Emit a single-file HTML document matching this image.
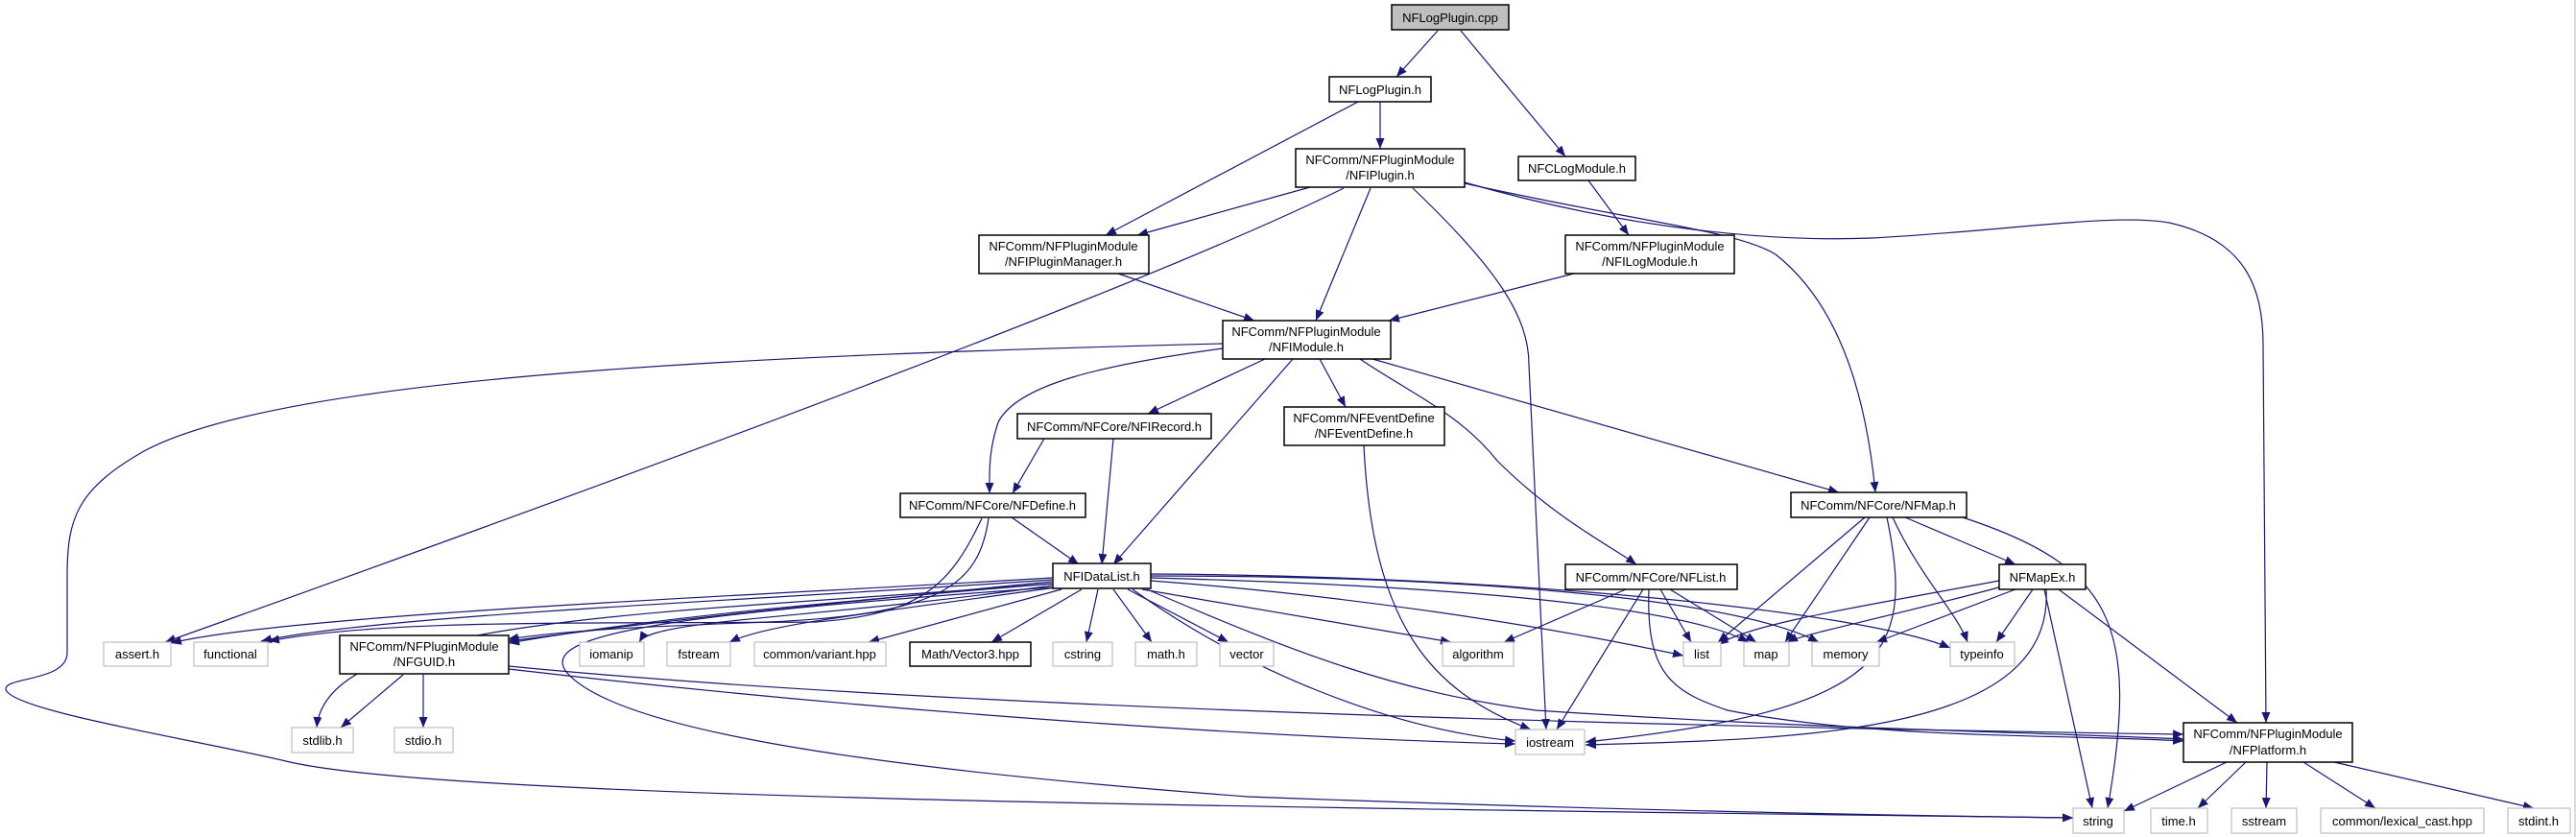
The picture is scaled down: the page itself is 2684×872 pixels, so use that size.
<!DOCTYPE html>
<html><head><meta charset="utf-8"><style>
html,body{margin:0;padding:0;background:#fff;}
svg{display:block;}
text{font-family:"Liberation Sans",sans-serif;font-size:13px;fill:#000;}
.b{fill:#fff;stroke:#000;stroke-width:1.5;}
.g{fill:#fff;stroke:#bfbfbf;stroke-width:1.2;}
.e{fill:none;stroke:#191970;stroke-width:1.2;}
</style></head><body>
<svg width="2684" height="872" viewBox="0 0 2684 872" xmlns="http://www.w3.org/2000/svg">
<defs><marker id="a" markerUnits="userSpaceOnUse" markerWidth="12" markerHeight="9" refX="11" refY="4.5" orient="auto"><path d="M0,0 L11,4.5 L0,9 z" fill="#191970"/></marker></defs>
<line x1="2683" y1="0" x2="2683" y2="872" stroke="#bbb" stroke-width="1"/>
<g class="e" marker-end="url(#a)">
<path d="M1498,32 L1455,80"/>
<path d="M1522,32 L1631,163"/>
<path d="M1438,106 L1438,155"/>
<path d="M1415,106 L1152,245"/>
<path d="M1365,195 L1185,245"/>
<path d="M1400,196 Q1150,320 172,669"/>
<path d="M1428,196 L1371,334"/>
<path d="M1472,196 C1560,280 1593,330 1593,380 L1611,760"/>
<path d="M1526,191 C1700,230 1810,240 1850,265 C1920,320 1945,420 1954,513"/>
<path d="M1526,190 C1700,240 1850,252 1950,248 C2100,240 2200,222 2260,232 C2340,250 2358,300 2358,360 L2361,753"/>
<path d="M1655,188 L1697,245"/>
<path d="M1165,285 L1307,334"/>
<path d="M1640,285 L1447,334"/>
<path d="M1274,358 C800,370 300,390 150,470 C80,510 70,540 70,600 L70,680 C70,710 5,705 6,718 C10,740 200,770 298,793 C450,830 1200,840 2160,852"/>
<path d="M1274,363 C1150,380 1060,400 1040,440 C1030,470 1031,490 1031,514"/>
<path d="M1347,374 L1160,588"/>
<path d="M1318,374 L1196,431"/>
<path d="M1375,374 L1402,424"/>
<path d="M1417,374 C1470,410 1520,430 1560,480 C1620,540 1680,570 1705,588"/>
<path d="M1430,374 L1916,513"/>
<path d="M1088,457 L1055,514"/>
<path d="M1160,457 L1148,588"/>
<path d="M1054,539 L1124,588"/>
<path d="M1023,540 C990,610 960,640 850,648 C600,650 400,645 280,668"/>
<path d="M1030,540 C1020,610 980,640 800,648 C700,652 600,655 529,666"/>
<path d="M1096,602 C800,620 300,640 178,670"/>
<path d="M1096,604 C800,625 400,640 272,668"/>
<path d="M1096,606 C900,625 700,645 530,668"/>
<path d="M1096,608 C900,625 700,640 530,670"/>
<path d="M1096,608 C700,640 340,640 330,758"/>
<path d="M1096,610 C850,645 680,645 666,669"/>
<path d="M1100,612 C900,640 800,650 760,669"/>
<path d="M1106,614 L905,669"/>
<path d="M1127,614 L1033,669"/>
<path d="M1144,614 L1132,669"/>
<path d="M1160,614 L1200,669"/>
<path d="M1175,614 L1280,669"/>
<path d="M1190,614 L1512,669"/>
<path d="M1199,605 C1400,620 1600,650 1754,683"/>
<path d="M1199,602 C1500,610 1750,630 1822,669"/>
<path d="M1199,600 C1500,600 1800,620 1895,669"/>
<path d="M1199,598 C1600,600 1950,640 2032,675"/>
<path d="M1180,614 C1300,700 1450,760 1579,772"/>
<path d="M1195,614 C1350,680 1450,720 1600,740 C1900,760 2100,762 2275,770"/>
<path d="M1096,612 C700,640 560,660 590,700 C640,760 900,800 1300,830 C1700,845 2000,850 2160,852"/>
<path d="M420,703 L355,758"/>
<path d="M441,703 L441,758"/>
<path d="M530,697 C900,740 1300,768 1579,775"/>
<path d="M530,694 C1000,740 1800,758 2275,765"/>
<path d="M1421,464 C1430,650 1490,720 1595,760"/>
<path d="M1694,614 L1567,669"/>
<path d="M1730,614 L1762,669"/>
<path d="M1740,614 L1830,669"/>
<path d="M1712,614 L1622,760"/>
<path d="M1718,614 C1715,700 1740,720 1800,740 C1950,770 2150,765 2275,772"/>
<path d="M1943,539 L1790,669"/>
<path d="M1948,539 L1860,669"/>
<path d="M1966,539 C1995,680 1970,740 1652,773"/>
<path d="M1972,539 C2000,600 2040,640 2050,669"/>
<path d="M1985,539 L2100,588"/>
<path d="M2045,539 C2200,590 2230,650 2196,842"/>
<path d="M2083,605 C1950,630 1820,650 1790,672"/>
<path d="M2090,610 C1980,640 1880,660 1862,669"/>
<path d="M2100,614 L1955,669"/>
<path d="M2118,614 L2080,669"/>
<path d="M2132,614 C2140,760 1900,770 1652,776"/>
<path d="M2130,614 L2180,842"/>
<path d="M2145,614 L2331,753"/>
<path d="M2320,794 L2213,845"/>
<path d="M2340,794 L2290,842"/>
<path d="M2362,794 L2361,842"/>
<path d="M2400,794 L2475,842"/>
<path d="M2432,794 L2640,842"/>
</g>
<g>
<rect x="1450" y="5" width="122" height="26" fill="#bfbfbf" stroke="#000" stroke-width="1.5"/><text x="1511" y="23" text-anchor="middle">NFLogPlugin.cpp</text>
<rect class="b" x="1385" y="80" width="106" height="26"/><text x="1438" y="98" text-anchor="middle">NFLogPlugin.h</text>
<rect class="b" x="1350" y="155" width="176" height="40"/><text x="1438" y="171" text-anchor="middle">NFComm/NFPluginModule</text><text x="1438" y="187" text-anchor="middle">/NFIPlugin.h</text>
<rect class="b" x="1582" y="163" width="122" height="25"/><text x="1643" y="180" text-anchor="middle">NFCLogModule.h</text>
<rect class="b" x="1020" y="245" width="177" height="40"/><text x="1108" y="261" text-anchor="middle">NFComm/NFPluginModule</text><text x="1108" y="277" text-anchor="middle">/NFIPluginManager.h</text>
<rect class="b" x="1631" y="245" width="176" height="40"/><text x="1719" y="261" text-anchor="middle">NFComm/NFPluginModule</text><text x="1719" y="277" text-anchor="middle">/NFILogModule.h</text>
<rect class="b" x="1274" y="334" width="175" height="40"/><text x="1361" y="350" text-anchor="middle">NFComm/NFPluginModule</text><text x="1361" y="366" text-anchor="middle">/NFIModule.h</text>
<rect class="b" x="1060" y="431" width="202" height="26"/><text x="1161" y="449" text-anchor="middle">NFComm/NFCore/NFIRecord.h</text>
<rect class="b" x="1338" y="424" width="167" height="40"/><text x="1421" y="440" text-anchor="middle">NFComm/NFEventDefine</text><text x="1421" y="456" text-anchor="middle">/NFEventDefine.h</text>
<rect class="b" x="938" y="514" width="193" height="25"/><text x="1034" y="531" text-anchor="middle">NFComm/NFCore/NFDefine.h</text>
<rect class="b" x="1866" y="513" width="183" height="26"/><text x="1957" y="531" text-anchor="middle">NFComm/NFCore/NFMap.h</text>
<rect class="b" x="1097" y="587" width="102" height="26"/><text x="1148" y="605" text-anchor="middle">NFIDataList.h</text>
<rect class="b" x="1631" y="588" width="179" height="26"/><text x="1720" y="606" text-anchor="middle">NFComm/NFCore/NFList.h</text>
<rect class="b" x="2083" y="588" width="90" height="26"/><text x="2128" y="606" text-anchor="middle">NFMapEx.h</text>
<rect class="g" x="108" y="669" width="70" height="25"/><text x="143" y="686" text-anchor="middle">assert.h</text>
<rect class="g" x="202" y="669" width="77" height="25"/><text x="240" y="686" text-anchor="middle">functional</text>
<rect class="b" x="354" y="662" width="176" height="40"/><text x="442" y="678" text-anchor="middle">NFComm/NFPluginModule</text><text x="442" y="694" text-anchor="middle">/NFGUID.h</text>
<rect class="g" x="604" y="669" width="67" height="25"/><text x="637" y="686" text-anchor="middle">iomanip</text>
<rect class="g" x="695" y="669" width="66" height="25"/><text x="728" y="686" text-anchor="middle">fstream</text>
<rect class="g" x="786" y="669" width="137" height="25"/><text x="854" y="686" text-anchor="middle">common/variant.hpp</text>
<rect class="b" x="948" y="669" width="126" height="25"/><text x="1011" y="686" text-anchor="middle">Math/Vector3.hpp</text>
<rect class="g" x="1097" y="669" width="62" height="25"/><text x="1128" y="686" text-anchor="middle">cstring</text>
<rect class="g" x="1183" y="669" width="64" height="25"/><text x="1215" y="686" text-anchor="middle">math.h</text>
<rect class="g" x="1271" y="669" width="56" height="25"/><text x="1299" y="686" text-anchor="middle">vector</text>
<rect class="g" x="1503" y="669" width="74" height="25"/><text x="1540" y="686" text-anchor="middle">algorithm</text>
<rect class="g" x="1754" y="669" width="39" height="25"/><text x="1773" y="686" text-anchor="middle">list</text>
<rect class="g" x="1817" y="669" width="47" height="25"/><text x="1840" y="686" text-anchor="middle">map</text>
<rect class="g" x="1888" y="669" width="70" height="25"/><text x="1923" y="686" text-anchor="middle">memory</text>
<rect class="g" x="2032" y="669" width="67" height="25"/><text x="2065" y="686" text-anchor="middle">typeinfo</text>
<rect class="g" x="304" y="758" width="64" height="26"/><text x="336" y="776" text-anchor="middle">stdlib.h</text>
<rect class="g" x="411" y="758" width="61" height="26"/><text x="441" y="776" text-anchor="middle">stdio.h</text>
<rect class="g" x="1579" y="760" width="72" height="26"/><text x="1615" y="778" text-anchor="middle">iostream</text>
<rect class="b" x="2275" y="753" width="176" height="41"/><text x="2363" y="769" text-anchor="middle">NFComm/NFPluginModule</text><text x="2363" y="786" text-anchor="middle">/NFPlatform.h</text>
<rect class="g" x="2160" y="842" width="53" height="26"/><text x="2186" y="860" text-anchor="middle">string</text>
<rect class="g" x="2241" y="842" width="59" height="26"/><text x="2270" y="860" text-anchor="middle">time.h</text>
<rect class="g" x="2325" y="842" width="68" height="26"/><text x="2359" y="860" text-anchor="middle">sstream</text>
<rect class="g" x="2418" y="842" width="170" height="26"/><text x="2503" y="860" text-anchor="middle">common/lexical_cast.hpp</text>
<rect class="g" x="2613" y="842" width="65" height="26"/><text x="2645" y="860" text-anchor="middle">stdint.h</text>
</g>
</svg>
</body></html>
